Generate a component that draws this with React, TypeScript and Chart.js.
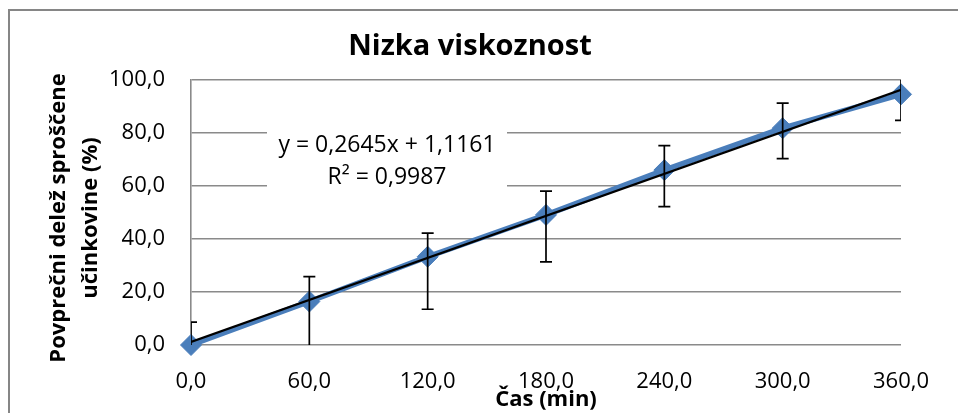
import { useEffect, useRef } from "react";
import { Chart, registerables } from "chart.js";

Chart.register(...registerables);

// Release profile: time (min) vs. mean released drug fraction (%)
const timeMin = [0, 60, 120, 180, 240, 300, 360];
const releasedPct = [0.0, 16.4, 33.3, 49.1, 66.0, 81.8, 94.6];
const errPlus = [8.6, 9.4, 8.9, 9.0, 9.2, 9.5, 9.8];
const errMinus = [8.6, 18.0, 19.8, 17.7, 13.8, 11.5, 9.8];

const xTickValues = [0, 60, 120, 180, 240, 300, 360];
const xTickLabels = ["0,0", "60,0", "120,0", "180,0", "240,0", "300,0", "360,0"];
const yTickValues = [0, 20, 40, 60, 80, 100];
const yTickLabels = ["0,0", "20,0", "40,0", "60,0", "80,0", "100,0"];

// Linear trendline
const trendSlope = 0.2645;
const trendIntercept = 1.1161;
const trendText = ["y = 0,2645x + 1,1161", "R² = 0,9987"];

const chartTitle = "Nizka viskoznost";
const xTitle = "Čas (min)";
const yTitle = ["Povprečni delež sproščene", "učinkovine (%)"];

const FONT = "'Open Sans', 'Noto Sans', sans-serif";
const BLUE = "#4A7EBB";
const GRID = "#8A8A8A";

const decorations = {
  id: "decorations",
  beforeDraw(chart: any) {
    const ctx = chart.ctx;
    ctx.save();
    ctx.fillStyle = "#ffffff";
    ctx.fillRect(0, 0, chart.width, chart.height);
    // chart frame
    ctx.strokeStyle = "#868686";
    ctx.lineWidth = 2;
    ctx.beginPath();
    ctx.moveTo(9, chart.height + 5);
    ctx.lineTo(9, 10);
    ctx.lineTo(chart.width + 5, 10);
    ctx.stroke();
    ctx.restore();
  },
  beforeDatasetsDraw(chart: any) {
    const ctx = chart.ctx;
    const a = chart.chartArea;
    // trendline equation box
    const bx = a.left + 76;
    const bw = 240;
    ctx.save();
    ctx.fillStyle = "#ffffff";
    ctx.fillRect(bx, a.top + 40, bw, 78);
    ctx.fillStyle = "#000000";
    ctx.font = `23px ${FONT}`;
    ctx.textAlign = "center";
    ctx.textBaseline = "alphabetic";
    ctx.fillText(trendText[0], bx + bw / 2, a.top + 72);
    ctx.fillText(trendText[1], bx + bw / 2, a.top + 104);
    ctx.restore();
  },
  afterDatasetsDraw(chart: any) {
    const ctx = chart.ctx;
    const a = chart.chartArea;
    const xs = chart.scales.x;
    const ys = chart.scales.y;
    ctx.save();
    ctx.beginPath();
    ctx.rect(a.left, a.top, a.right - a.left, a.bottom - a.top);
    ctx.clip();
    ctx.strokeStyle = "#000000";
    ctx.lineWidth = 1.7;
    const cap = 6;
    timeMin.forEach((t, i) => {
      const px = xs.getPixelForValue(t);
      const top = ys.getPixelForValue(releasedPct[i] + errPlus[i]);
      const bot = ys.getPixelForValue(releasedPct[i] - errMinus[i]);
      ctx.beginPath();
      ctx.moveTo(px, top);
      ctx.lineTo(px, bot);
      ctx.moveTo(px - cap, top);
      ctx.lineTo(px + cap, top);
      ctx.moveTo(px - cap, bot);
      ctx.lineTo(px + cap, bot);
      ctx.stroke();
    });
    ctx.restore();
  },
  afterDraw(chart: any) {
    const ctx = chart.ctx;
    const a = chart.chartArea;
    ctx.save();
    ctx.fillStyle = "#000000";
    ctx.textAlign = "center";
    ctx.textBaseline = "alphabetic";
    ctx.font = `bold 29px ${FONT}`;
    ctx.fillText(chartTitle, 470, 55);
    ctx.font = `bold 22px ${FONT}`;
    ctx.fillText(xTitle, (a.left + a.right) / 2, 406);
    const cy = 218;
    const baselines = [65, 97];
    yTitle.forEach((line, i) => {
      ctx.save();
      ctx.translate(baselines[i], cy);
      ctx.rotate(-Math.PI / 2);
      ctx.fillText(line, 0, 0);
      ctx.restore();
    });
    ctx.restore();
  },
};

export default function App() {
  const canvasRef = useRef<HTMLCanvasElement | null>(null);

  useEffect(() => {
    if (!canvasRef.current) return;
    const chart = new Chart(canvasRef.current, {
      type: "line",
      data: {
        datasets: [
          {
            label: "Trend",
            data: [
              { x: timeMin[0], y: trendIntercept + trendSlope * timeMin[0] },
              {
                x: timeMin[timeMin.length - 1],
                y: trendIntercept + trendSlope * timeMin[timeMin.length - 1],
              },
            ],
            borderColor: "#000000",
            borderWidth: 2.2,
            pointRadius: 0,
            tension: 0,
          },
          {
            label: chartTitle,
            data: timeMin.map((t, i) => ({ x: t, y: releasedPct[i] })),
            borderColor: BLUE,
            backgroundColor: BLUE,
            borderWidth: 5.5,
            pointStyle: "rectRot",
            pointRadius: 10.5,
            pointBackgroundColor: BLUE,
            pointBorderColor: BLUE,
            pointBorderWidth: 1,
            tension: 0,
            clip: false as any,
          },
        ],
      },
      options: {
        animation: false,
        responsive: false,
        devicePixelRatio: 1,
        layout: { padding: { top: 80, left: 0, right: 57, bottom: 0 } },
        plugins: {
          legend: { display: false },
          title: { display: false },
          tooltip: { enabled: false },
        },
        scales: {
          x: {
            type: "linear",
            min: 0,
            max: 360,
            afterBuildTicks: (axis: any) => {
              axis.ticks = xTickValues.map((v) => ({ value: v }));
            },
            afterFit: (axis: any) => {
              axis.height = 68;
            },
            grid: { display: false, drawTicks: false },
            border: { display: false },
            ticks: {
              padding: 24,
              color: "#000000",
              font: { family: FONT, size: 22 },
              maxRotation: 0,
              autoSkip: false,
              callback: (_v: any, i: number) => xTickLabels[i],
            },
          },
          y: {
            type: "linear",
            min: 0,
            max: 100,
            afterBuildTicks: (axis: any) => {
              axis.ticks = yTickValues.map((v) => ({ value: v }));
            },
            afterFit: (axis: any) => {
              axis.width = 191;
            },
            grid: { color: GRID, lineWidth: 1.6, drawTicks: false },
            border: { display: true, color: GRID, width: 1.6 },
            ticks: {
              padding: 26,
              color: "#000000",
              font: { family: FONT, size: 22 },
              autoSkip: false,
              callback: (_v: any, i: number) => yTickLabels[i],
            },
          },
        },
      },
      plugins: [decorations],
    });
    return () => chart.destroy();
  }, []);

  return (
    <div style={{ position: "fixed", left: 0, top: 0, width: 958, height: 413 }}>
      <canvas ref={canvasRef} width={958} height={413} style={{ display: "block" }} />
    </div>
  );
}
